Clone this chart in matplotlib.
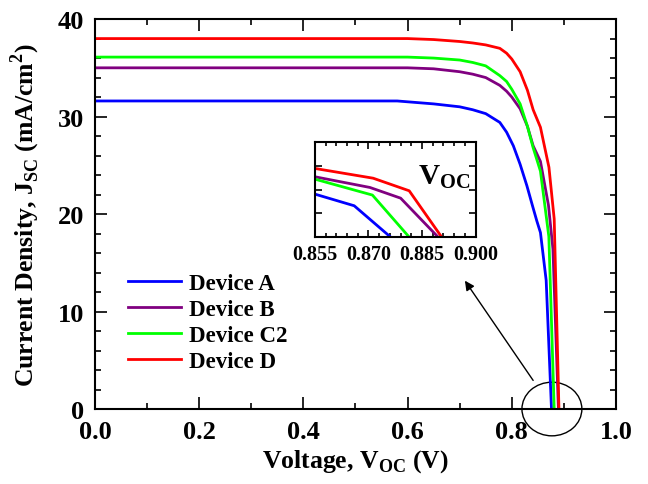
import numpy as np
from matplotlib import pyplot as plt
from matplotlib.patches import Ellipse
from matplotlib.ticker import MultipleLocator, FormatStrFormatter, NullFormatter

plt.rcParams["font.family"] = ["Liberation Serif", "DejaVu Serif"]
plt.rcParams["font.weight"] = "bold"
plt.rcParams["mathtext.fontset"] = "custom"
plt.rcParams["mathtext.rm"] = "Liberation Serif:bold"

# J-V curves
labels = ["Device A", "Device B", "Device C2", "Device D"]
colors = ["#0000ff", "#800080", "#00ff00", "#ff0000"]

v_a = [0, 0.58, 0.65, 0.70, 0.725, 0.75, 0.777, 0.79, 0.803, 0.816, 0.829, 0.84, 0.848, 0.855, 0.866, 0.8762]
j_a = [31.6, 31.6, 31.3, 31.0, 30.7, 30.3, 29.4, 28.4, 27.0, 25.1, 22.9, 20.8, 19.3, 18.1, 13.2, 0]

v_b = [0, 0.60, 0.65, 0.70, 0.725, 0.75, 0.777, 0.79, 0.80, 0.816, 0.83, 0.841, 0.855, 0.8704, 0.879, 0.8895]
j_b = [35.0, 35.0, 34.9, 34.6, 34.35, 34.0, 33.2, 32.6, 32.0, 30.8, 29.0, 27.0, 25.4, 20.9, 16.4, 0]

v_c2 = [0, 0.60, 0.65, 0.70, 0.725, 0.75, 0.777, 0.79, 0.80, 0.816, 0.83, 0.841, 0.855, 0.8711, 0.8814]
j_c2 = [36.1, 36.1, 36.0, 35.8, 35.55, 35.2, 34.2, 33.6, 32.8, 31.3, 29.0, 26.8, 24.4, 17.7, 0]

v_d = [0, 0.60, 0.65, 0.70, 0.725, 0.75, 0.777, 0.79, 0.80, 0.816, 0.83, 0.841, 0.855, 0.8713, 0.8814, 0.8905]
j_d = [38.0, 38.0, 37.9, 37.7, 37.55, 37.35, 37.0, 36.5, 35.9, 34.6, 32.7, 30.7, 28.9, 24.8, 19.5, 0]

curves = [(v_a, j_a), (v_b, j_b), (v_c2, j_c2), (v_d, j_d)]


def style_ticks(ax, major, minor):
    ax.tick_params(which="both", direction="in", top=True, right=True, width=1.2)
    ax.tick_params(which="major", length=major)
    ax.tick_params(which="minor", length=minor)
    for s in ax.spines.values():
        s.set_linewidth(1.5)


fig = plt.figure(figsize=(6.48, 4.85), dpi=100)
ax = fig.add_axes([0.1466, 0.1546, 0.804, 0.804])

for (v, j), lab, c in zip(curves, labels, colors):
    ax.plot(v, j, color=c, lw=2, label=lab)

ax.set_xlim(0, 1.0)
ax.set_ylim(0, 40)
ax.xaxis.set_major_locator(MultipleLocator(0.2))
ax.xaxis.set_minor_locator(MultipleLocator(0.1))
ax.xaxis.set_major_formatter(FormatStrFormatter("%.1f"))
ax.yaxis.set_major_locator(MultipleLocator(10))
ax.yaxis.set_minor_locator(MultipleLocator(2))
style_ticks(ax, 8.5, 4.5)
ax.tick_params(labelsize=19, pad=8)
ax.set_xlabel(r"Voltage, V$_{\mathregular{OC}}$ (V)", fontsize=18.5, fontweight="bold", labelpad=3)
ax.set_ylabel(r"Current Density, J$_{\mathregular{SC}}$ (mA/cm$^{\mathregular{2}}$)",
              fontsize=18.5, fontweight="bold", labelpad=11)

ax.legend(loc="lower left", bbox_to_anchor=(0.063, 0.095), frameon=False,
          fontsize=16.5, handlelength=2.3, handletextpad=0.35, labelspacing=0.22,
          borderaxespad=0, borderpad=0)

ax.add_patch(Ellipse((0.877, 0.0), 0.115, 5.5, fill=False, ec="k", lw=1.0, clip_on=False))
ax.annotate("", xy=(0.707, 13.4), xytext=(0.844, 2.7),
            arrowprops=dict(arrowstyle="-|>", color="k", lw=1.0, mutation_scale=14))

# inset
ins = fig.add_axes([0.486, 0.509, 0.248, 0.196])
for (v, j), c in zip(curves, colors):
    ins.plot(v, j, color=c, lw=2)
ins.set_xlim(0.855, 0.900)
ins.set_ylim(0, 40)
ins.xaxis.set_major_locator(MultipleLocator(0.015))
ins.xaxis.set_minor_locator(MultipleLocator(0.003))
ins.xaxis.set_major_formatter(FormatStrFormatter("%.3f"))
ins.yaxis.set_major_locator(MultipleLocator(10))
ins.yaxis.set_major_formatter(NullFormatter())
style_ticks(ins, 5, 3)
ins.tick_params(labelsize=14.5, pad=5)
ins.text(0.8912, 25.5, r"V$_{\mathregular{OC}}$", fontsize=21, fontweight="bold",
         ha="center", va="center")

fig.savefig("out.png", dpi=100)
